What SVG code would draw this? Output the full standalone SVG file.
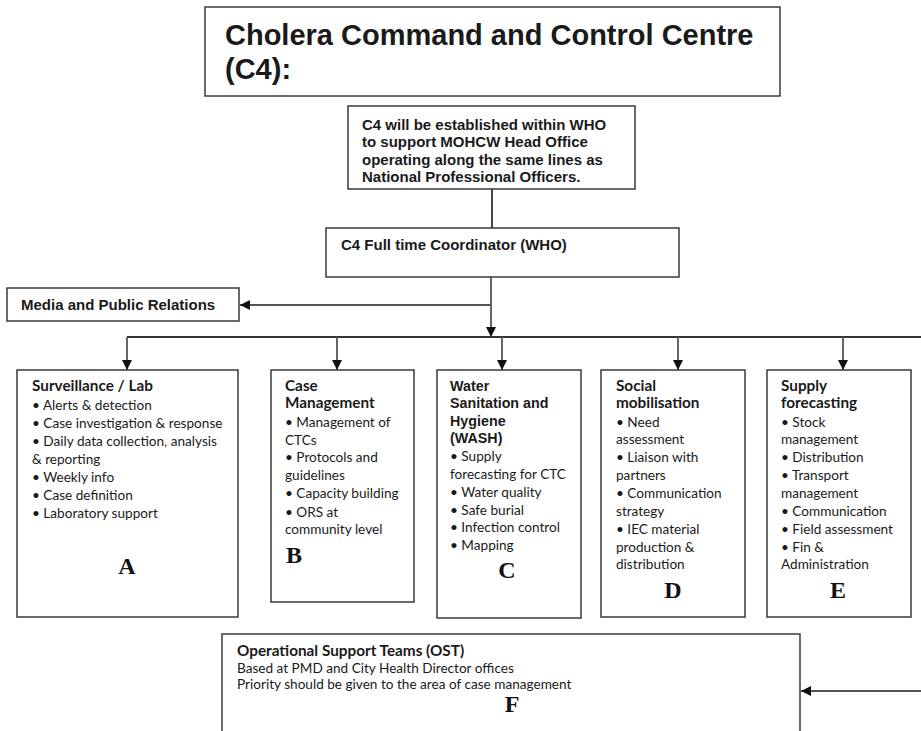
<svg xmlns="http://www.w3.org/2000/svg" width="921" height="731" viewBox="0 0 921 731">
<style>
.box{fill:#fff;stroke:#3a3a3a;stroke-width:1.5}
.con{fill:none;stroke:#555;stroke-width:1.8}
.ar{font-family:"Liberation Sans",Arial,sans-serif;font-weight:bold;fill:#1a1a1a}
.cal{font-family:Lato,"Liberation Sans",sans-serif;font-size:13.6px;fill:#1a1a1a}
.calb{font-family:Lato,"Liberation Sans",sans-serif;font-size:15.3px;font-weight:bold;fill:#1a1a1a}
.let{font-family:"Liberation Serif","Times New Roman",serif;font-weight:bold;font-size:24px;text-anchor:middle;fill:#111}
</style>
<defs>
<marker id="ah" viewBox="0 0 10 10" markerUnits="userSpaceOnUse" markerWidth="10" markerHeight="10" refX="10" refY="5" orient="auto">
<path d="M0,0 L10,5 L0,10 z" fill="#111"/>
</marker>
</defs>
<rect width="921" height="731" fill="#fff"/>

<g id="connectors">
<line class="con" x1="492" y1="189" x2="492" y2="228" style="stroke:#333"/>
<line class="con" x1="491" y1="277" x2="491" y2="337" marker-end="url(#ah)"/>
<line class="con" x1="491" y1="305" x2="240" y2="305" marker-end="url(#ah)"/>
<line class="con" x1="127" y1="337" x2="921" y2="337" style="stroke:#333"/>
<line class="con" x1="127" y1="337" x2="127" y2="370" marker-end="url(#ah)"/>
<line class="con" x1="337" y1="337" x2="337" y2="370" marker-end="url(#ah)"/>
<line class="con" x1="502" y1="337" x2="502" y2="370" marker-end="url(#ah)"/>
<line class="con" x1="678" y1="337" x2="678" y2="370" marker-end="url(#ah)"/>
<line class="con" x1="843" y1="337" x2="843" y2="370" marker-end="url(#ah)"/>
<line class="con" x1="921" y1="691" x2="801" y2="691" marker-end="url(#ah)"/>
</g>

<g id="title">
<rect class="box" x="205" y="7" width="575" height="89"/>
<text class="ar" font-size="29" x="225" y="45">Cholera Command and Control Centre</text>
<text class="ar" font-size="29" x="225" y="79">(C4):</text>
</g>

<g id="c4-note">
<rect class="box" x="348" y="106" width="287" height="83"/>
<text class="ar" font-size="15" x="362" y="130">C4 will be established within WHO</text>
<text class="ar" font-size="15" x="362" y="147">to support MOHCW Head Office</text>
<text class="ar" font-size="15" x="362" y="165">operating along the same lines as</text>
<text class="ar" font-size="15" x="362" y="182">National Professional Officers.</text>
</g>

<g id="coordinator">
<rect class="box" x="326" y="228" width="353" height="49"/>
<text class="ar" font-size="15" x="341" y="250">C4 Full time Coordinator (WHO)</text>
</g>

<g id="media">
<rect class="box" x="7" y="288" width="232" height="33"/>
<text class="ar" font-size="15" x="21" y="310">Media and Public Relations</text>
</g>

<g id="A">
<rect class="box" x="17" y="370" width="221" height="247"/>
<text class="calb" x="32" y="391">Surveillance / Lab</text>
<text class="cal" x="32" y="410">• Alerts &amp; detection</text>
<text class="cal" x="32" y="428">• Case investigation &amp; response</text>
<text class="cal" x="32" y="446">• Daily data collection, analysis</text>
<text class="cal" x="32" y="464">&amp; reporting</text>
<text class="cal" x="32" y="482">• Weekly info</text>
<text class="cal" x="32" y="500">• Case definition</text>
<text class="cal" x="32" y="518">• Laboratory support</text>
<text class="let" x="127" y="574">A</text>
</g>

<g id="B">
<rect class="box" x="271" y="370" width="143" height="232"/>
<text class="calb" x="285" y="391">Case</text>
<text class="calb" x="285" y="408">Management</text>
<text class="cal" x="285" y="427">• Management of</text>
<text class="cal" x="285" y="445">CTCs</text>
<text class="cal" x="285" y="462">• Protocols and</text>
<text class="cal" x="285" y="480">guidelines</text>
<text class="cal" x="285" y="498">• Capacity building</text>
<text class="cal" x="285" y="517">• ORS at</text>
<text class="cal" x="285" y="534">community level</text>
<text class="let" x="294" y="563">B</text>
</g>

<g id="C">
<rect class="box" x="437" y="370" width="144" height="248"/>
<text class="ar" font-size="14.3" x="450" y="391">Water</text>
<text class="ar" font-size="14.3" x="450" y="408">Sanitation and</text>
<text class="ar" font-size="14.3" x="450" y="426">Hygiene</text>
<text class="ar" font-size="14.3" x="450" y="443">(WASH)</text>
<text class="cal" x="450" y="461">• Supply</text>
<text class="cal" x="450" y="479">forecasting for CTC</text>
<text class="cal" x="450" y="497">• Water quality</text>
<text class="cal" x="450" y="515">• Safe burial</text>
<text class="cal" x="450" y="532">• Infection control</text>
<text class="cal" x="450" y="550">• Mapping</text>
<text class="let" x="507" y="578">C</text>
</g>

<g id="D">
<rect class="box" x="601" y="370" width="144" height="247"/>
<text class="calb" x="616" y="391">Social</text>
<text class="calb" x="616" y="408">mobilisation</text>
<text class="cal" x="616" y="427">• Need</text>
<text class="cal" x="616" y="444">assessment</text>
<text class="cal" x="616" y="462">• Liaison with</text>
<text class="cal" x="616" y="480">partners</text>
<text class="cal" x="616" y="498">• Communication</text>
<text class="cal" x="616" y="516">strategy</text>
<text class="cal" x="616" y="534">• IEC material</text>
<text class="cal" x="616" y="552">production &amp;</text>
<text class="cal" x="616" y="569">distribution</text>
<text class="let" x="673" y="598">D</text>
</g>

<g id="E">
<rect class="box" x="767" y="370" width="144" height="247"/>
<text class="calb" x="781" y="391">Supply</text>
<text class="calb" x="781" y="408">forecasting</text>
<text class="cal" x="781" y="427">• Stock</text>
<text class="cal" x="781" y="444">management</text>
<text class="cal" x="781" y="462">• Distribution</text>
<text class="cal" x="781" y="480">• Transport</text>
<text class="cal" x="781" y="498">management</text>
<text class="cal" x="781" y="516">• Communication</text>
<text class="cal" x="781" y="534">• Field assessment</text>
<text class="cal" x="781" y="552">• Fin &amp;</text>
<text class="cal" x="781" y="569">Administration</text>
<text class="let" x="838" y="598">E</text>
</g>

<g id="F">
<rect class="box" x="222" y="634" width="578" height="110"/>
<text class="calb" x="237" y="656" font-size="16.5">Operational Support Teams (OST)</text>
<text class="cal" x="237" y="673" font-size="11.8">Based at PMD and City Health Director offices</text>
<text class="cal" x="237" y="689" font-size="11.8">Priority should be given to the area of case management</text>
<text class="let" x="512" y="712">F</text>
</g>
</svg>
